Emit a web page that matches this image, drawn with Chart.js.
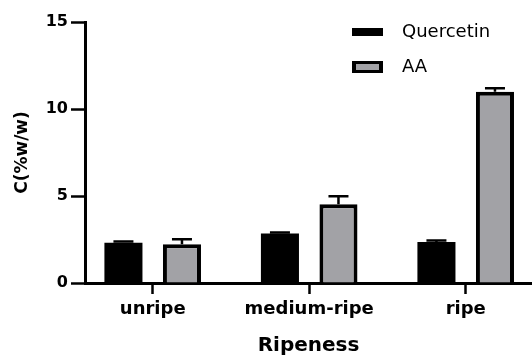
<!DOCTYPE html>
<html>
<head>
<meta charset="utf-8">
<script src="https://cdn.jsdelivr.net/npm/chart.js@4/dist/chart.umd.min.js"></script>
<style>
  html, body { margin: 0; padding: 0; background: #fff; }
  #wrap { width: 532px; height: 356px; }
</style>
</head>
<body>
<div id="wrap"><canvas id="c" width="532" height="356"></canvas></div>
<script>
const categories = ['unripe', 'medium-ripe', 'ripe'];
const seriesNames = ['Quercetin', 'AA'];
const quercetin = [2.32, 2.85, 2.36];
const quercetinErr = [0.07, 0.05, 0.08];
const aa = [2.22, 4.52, 10.99];
const aaErr = [0.3, 0.46, 0.2];
const yTicks = [0, 5, 10, 15];

const FONT = 'DejaVu Sans';
const GRAY = '#a2a2a6';

function toPoints(vals) { return vals.map((v, i) => ({ x: i, y: v })); }

const errorBars = {
  id: 'errorBars',
  afterDatasetsDraw(chart) {
    const ctx = chart.ctx;
    const yScale = chart.scales.y;
    chart.data.datasets.forEach((ds, di) => {
      const meta = chart.getDatasetMeta(di);
      meta.data.forEach((bar, i) => {
        const top = ds.data[i].y + ds.errors[i];
        const yTop = yScale.getPixelForValue(top);
        const yBar = bar.y;
        ctx.save();
        ctx.strokeStyle = '#000';
        ctx.lineWidth = 2.5;
        ctx.beginPath();
        ctx.moveTo(bar.x, yBar);
        ctx.lineTo(bar.x, yTop);
        ctx.moveTo(bar.x - 10, yTop);
        ctx.lineTo(bar.x + 10, yTop);
        ctx.stroke();
        ctx.restore();
      });
    });
  }
};

const customLegend = {
  id: 'customLegend',
  afterDraw(chart) {
    const ctx = chart.ctx;
    const items = [[32, 8], [67, 12]];
    chart.data.datasets.forEach((ds, i) => {
      const [cy, h] = items[i];
      ctx.save();
      ctx.fillStyle = '#000';
      ctx.fillRect(352, cy - h / 2, 31, h);
      if (ds.backgroundColor !== '#000') {
        ctx.fillStyle = ds.backgroundColor;
        ctx.fillRect(356, cy - h / 2 + 3, 23, h - 6);
      }
      ctx.fillStyle = '#000';
      ctx.font = '18px "' + FONT + '"';
      ctx.textBaseline = 'middle';
      ctx.textAlign = 'left';
      ctx.fillText(ds.label, 402, cy);
      ctx.restore();
    });
  }
};

new Chart(document.getElementById('c'), {
  type: 'bar',
  data: {
    datasets: [
      { label: seriesNames[0], data: toPoints(quercetin), errors: quercetinErr,
        backgroundColor: '#000', borderColor: '#000', borderWidth: 0 },
      { label: seriesNames[1], data: toPoints(aa), errors: aaErr,
        backgroundColor: GRAY, borderColor: '#000', borderWidth: 4, borderSkipped: 'bottom' }
    ]
  },
  options: {
    responsive: false,
    animation: false,
    devicePixelRatio: 1,
    categoryPercentage: 0.748,
    barPercentage: 0.65,
    layout: { padding: { top: 22, right: 0, bottom: 0, left: 0 } },
    plugins: { legend: { display: false }, tooltip: { enabled: false } },
    scales: {
      x: {
        type: 'linear',
        offset: false,
        min: -0.4326,
        max: 2.4236,
        afterFit(s) { s.height = 73; },
        afterBuildTicks(s) { s.ticks = categories.map((c, i) => ({ value: i })); },
        border: { display: true, color: '#000', width: 3 },
        grid: { display: true, offset: false, drawOnChartArea: false, drawTicks: true, tickLength: 11, tickWidth: 2.5, tickColor: '#000' },
        ticks: {
          color: '#000',
          padding: 5,
          maxRotation: 0,
          autoSkip: false,
          font: { family: FONT, size: 18, weight: 'bold' },
          callback: (v) => categories[v]
        },
        title: { display: true, text: 'Ripeness', color: '#000', padding: { top: 0, bottom: 0 },
          font: { family: FONT, size: 20, weight: 'bold', lineHeight: 1.0 } }
      },
      y: {
        min: 0,
        max: 15,
        afterFit(s) { s.width = 85; },
        afterBuildTicks(s) { s.ticks = yTicks.map(v => ({ value: v })); },
        border: { display: true, color: '#000', width: 3 },
        grid: { display: true, drawOnChartArea: false, drawTicks: true, tickLength: 14, tickWidth: 2.5, tickColor: '#000' },
        ticks: {
          color: '#000',
          padding: 3,
          font: { family: FONT, size: 16, weight: 'bold' }
        },
        title: { display: true, text: 'C(%w/w)', color: '#000', padding: { top: 12, bottom: 0 },
          font: { family: FONT, size: 17, weight: 'bold' } }
      }
    }
  },
  plugins: [errorBars, customLegend]
});
</script>
</body>
</html>
